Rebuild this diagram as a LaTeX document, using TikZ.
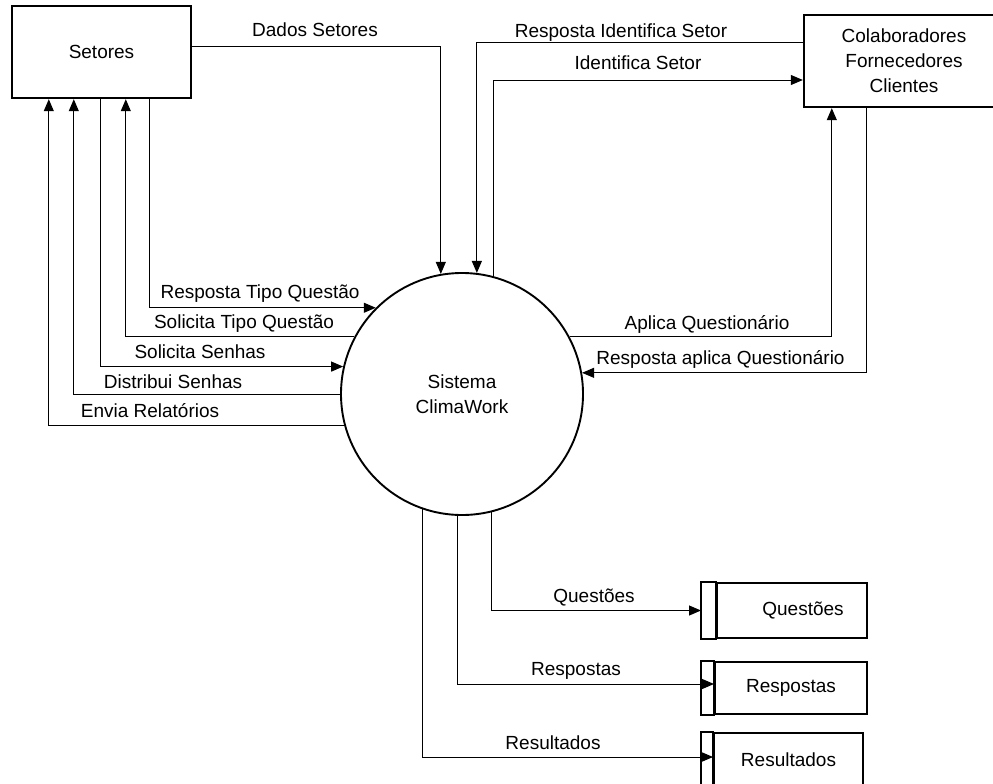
\documentclass[tikz,border=0pt]{standalone}
\usepackage{fontspec}
\setmainfont{Liberation Sans}
\usetikzlibrary{arrows.meta}

\tikzset{
  txt/.style={font=\fontsize{19}{25}\selectfont},
  entity/.style={txt, draw, line width=2.4pt, rectangle, align=center, inner sep=0pt},
  process/.style={txt, draw, line width=1.9pt, circle, align=center, inner sep=0pt},
  store/.style={txt, draw, line width=2pt, rectangle, inner sep=0pt},
  link/.style={line width=1pt},
  flow/.style={link, -{Triangle[length=12pt,width=10pt]}},
  lbl/.style={txt, inner sep=0pt, text height=13pt, text depth=0.4pt}
}

\begin{document}
\begin{tikzpicture}[x=1pt, y=-1pt]
  \useasboundingbox (0,0) rectangle (993,784);
  \clip (0,0) rectangle (993,784);

  % external entities
  \node[entity, minimum width=179pt, minimum height=92pt] (setores) at (101.5,52) {Setores};
  \node[entity, minimum width=200pt, minimum height=92pt] (colab) at (904,61)
    {Colaboradores\\Fornecedores\\Clientes};

  % central process
  \node[process, minimum size=242pt] (sys) at (462,394) {Sistema\\ClimaWork};

  % data stores (right compartment as node, id strip drawn beside it)
  \node[store, minimum width=150pt, minimum height=55pt] (qst) at (792,610.5) {\hspace*{22pt}Questões};
  \node[store, minimum width=152pt, minimum height=52pt] (resp) at (791,688) {Respostas};
  \node[store, minimum width=149pt, minimum height=53pt] (res) at (788.5,759.5) {Resultados};
  \draw[line width=2pt] ([xshift=-15pt]qst.north west) rectangle (qst.south west);
  \draw[line width=2pt] ([xshift=-13pt]resp.north west) rectangle (resp.south west);
  \draw[line width=2pt] ([xshift=-12pt]res.north west) rectangle (res.south west);

  % flows between Setores and the system
  \draw[flow] ([yshift=5pt]setores.east) -| (sys.100);
  \draw[flow] ([xshift=139pt]setores.south west) |- (sys.135.4);
  \draw[flow] (sys.152.4) -| ([xshift=115pt]setores.south west);
  \draw[flow] ([xshift=90pt]setores.south west) |- (sys.167.1);
  \draw[flow] (sys.180.9) -| ([xshift=63pt]setores.south west);
  \draw[flow] (sys.195.3) -| ([xshift=38pt]setores.south west);

  % flows between the outside parties and the system
  \draw[flow] ([yshift=18pt]colab.west) -| (sys.83.4);
  \draw[flow] (sys.75.2) |- ([yshift=-19pt]colab.west);
  \draw[flow] (sys.28.6) -| ([xshift=29pt]colab.south west);
  \draw[flow] ([xshift=64pt]colab.south west) |- (sys.10);

  % flows into the data stores
  \draw[flow] (sys.284.8) |- ([xshift=-15pt]qst.west);
  \draw[flow] (sys.268.1) |- ([yshift=4pt]resp.west);
  \draw[flow] (sys.251.2) |- ([yshift=2.5pt]res.west);

  % flow labels
  \node[lbl] (lDados)   at (315,30)    {Dados Setores};
  \node[lbl] (lRespId)  at (621,31)    {Resposta Identifica Setor};
  \node[lbl] (lId)      at (638,63)    {Identifica Setor};
  \node[lbl] (lRespTQ)  at (260,292)   {Resposta Tipo Questão};
  \node[lbl] (lSolTQ)   at (244,322)   {Solicita Tipo Questão};
  \node[lbl] (lSolSen)  at (200,352)   {Solicita Senhas};
  \node[lbl] (lDistSen) at (173,382)   {Distribui Senhas};
  \node[lbl] (lEnvia)   at (150,411)   {Envia Relatórios};
  \node[lbl] (lAplica)  at (707,323)   {Aplica Questionário};
  \node[lbl] (lRespAp)  at (720.5,358) {Resposta aplica Questionário};
  \node[lbl] (lQst)     at (594,596)   {Questões};
  \node[lbl] (lResp)    at (576,669)   {Respostas};
  \node[lbl] (lRes)     at (553,743)   {Resultados};
\end{tikzpicture}
\end{document}
